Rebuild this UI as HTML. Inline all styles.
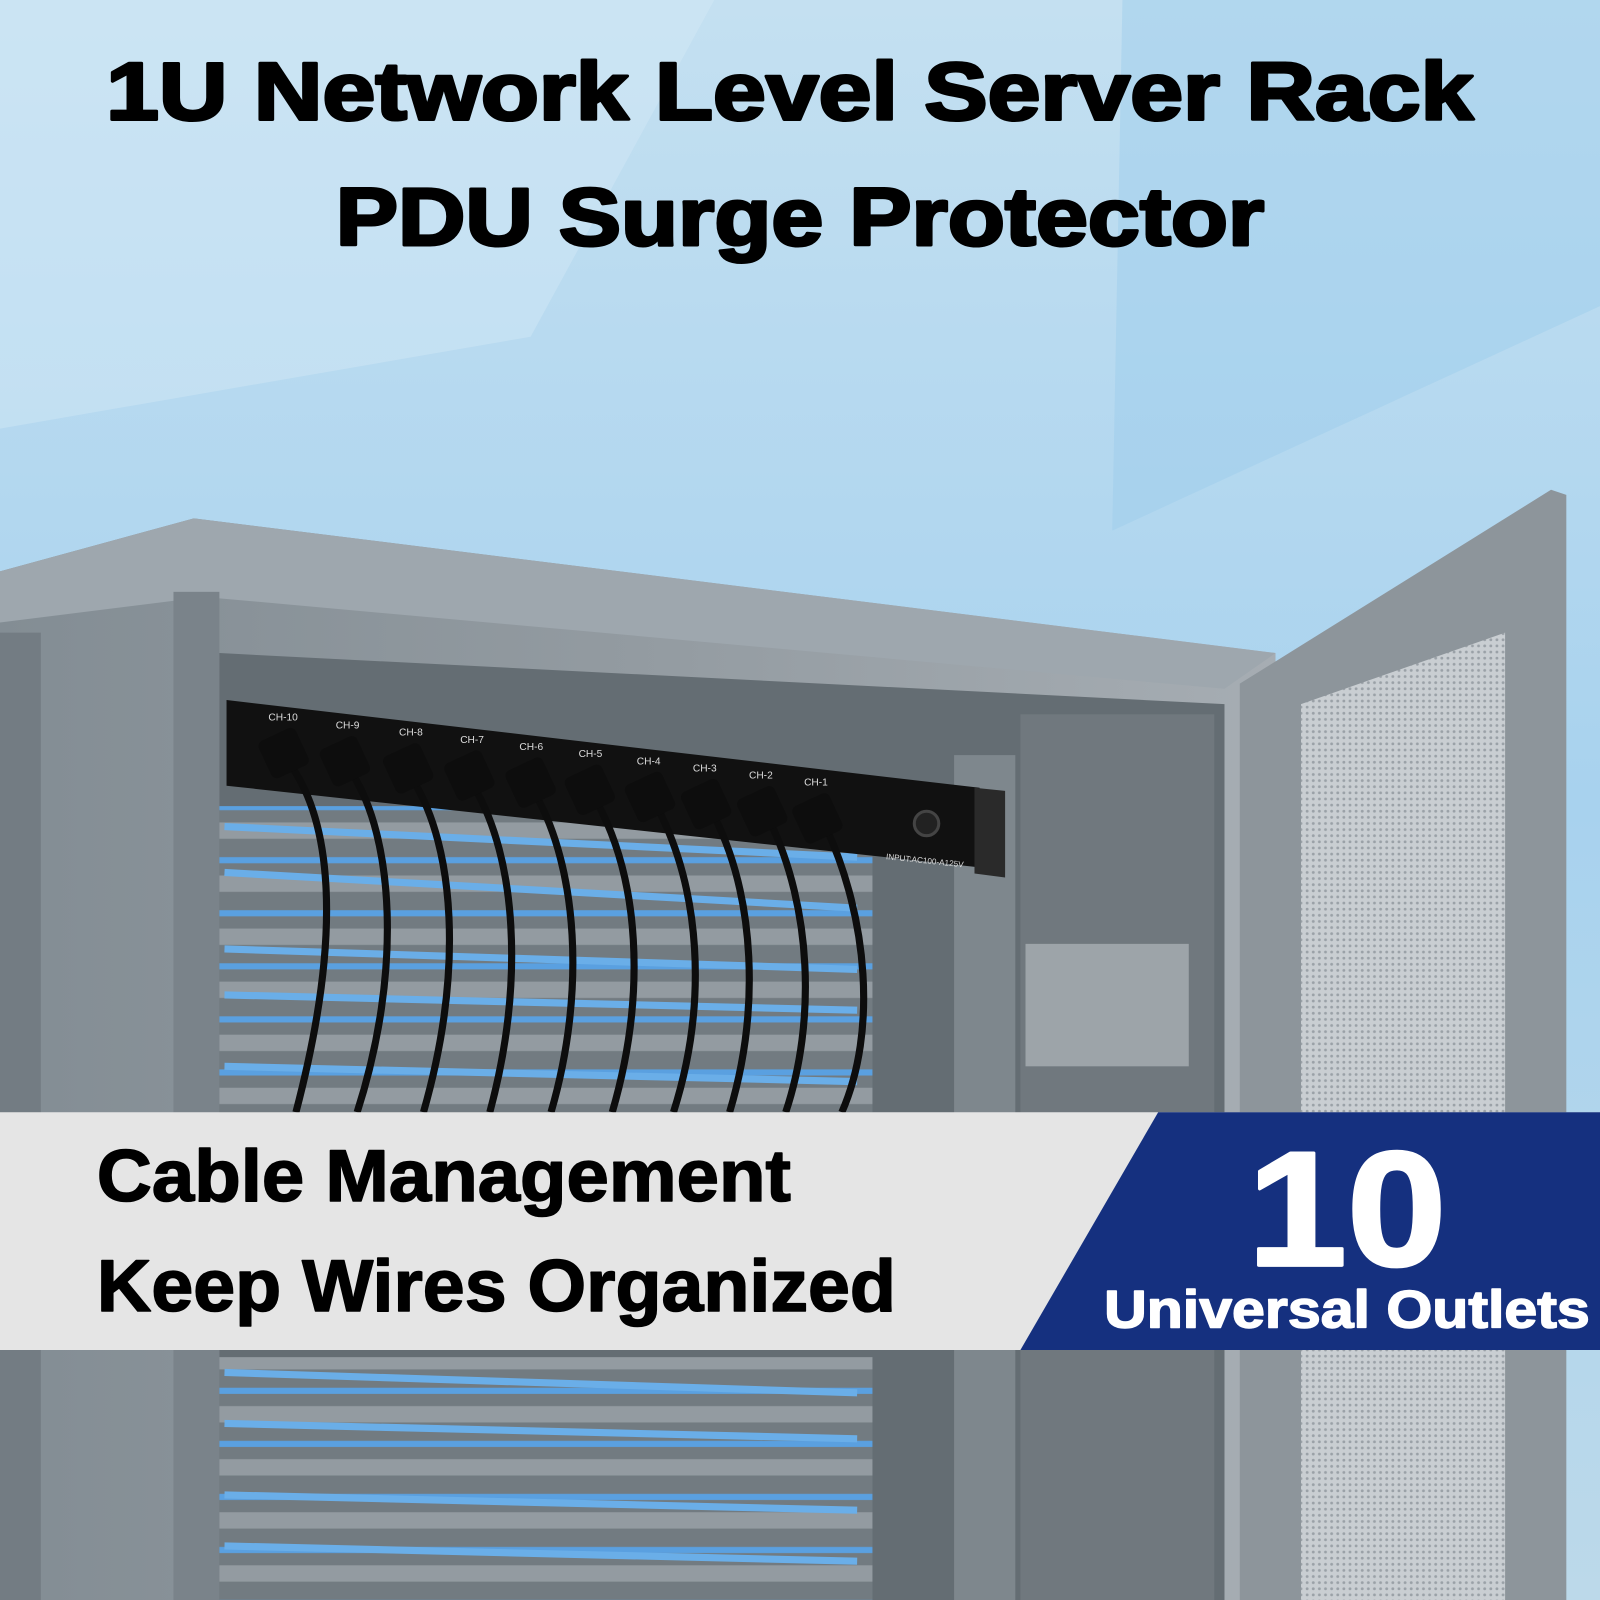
<!DOCTYPE html>
<html><head><meta charset="utf-8"><style>
html,body{margin:0;padding:0;width:1600px;height:1600px;overflow:hidden;background:#a9d2ec}
svg{display:block}
</style></head><body>
<svg width="1600" height="1600" viewBox="0 0 1568 1568" xmlns="http://www.w3.org/2000/svg">
<defs>
<linearGradient id="sky" x1="0" y1="0" x2="0" y2="1">
<stop offset="0" stop-color="#c4e0f1"/><stop offset="0.5" stop-color="#a8d2ee"/><stop offset="1" stop-color="#bcd9ea"/>
</linearGradient>
<linearGradient id="cab" x1="0" y1="0" x2="1" y2="0">
<stop offset="0" stop-color="#838d94"/><stop offset="0.5" stop-color="#939ba1"/><stop offset="1" stop-color="#a6adb3"/>
</linearGradient>
<pattern id="mesh" width="6" height="6" patternUnits="userSpaceOnUse">
<rect width="6" height="6" fill="#c9ced2"/><circle cx="3" cy="3" r="1.4" fill="#9aa1a7"/>
</pattern>
<pattern id="sw" width="1" height="52" patternUnits="userSpaceOnUse" x="0" y="0">
<rect width="1" height="52" fill="#727b81"/>
<rect y="8" width="1" height="6" fill="#5aa0e0"/>
<rect y="26" width="1" height="16" fill="#939ba1"/>
</pattern>
</defs>
<rect width="1568" height="1568" fill="url(#sky)"/>
<polygon points="0,0 700,0 520,330 0,420" fill="#d6ebf7" opacity="0.4"/>
<polygon points="1100,0 1568,0 1568,300 1090,520" fill="#9ccbeb" opacity="0.45"/>
<polygon points="0,560 190,508 1250,640 1250,1568 0,1568" fill="url(#cab)"/>
<polygon points="0,560 190,508 1250,640 1200,675 200,585 0,610" fill="#9ea7ae"/>
<rect x="170" y="580" width="45" height="988" fill="#7a838a"/>
<rect x="0" y="620" width="40" height="948" fill="#737c83"/>
<polygon points="215,640 1200,690 1200,1568 215,1568" fill="#646d73"/>
<rect x="215" y="790" width="640" height="300" fill="url(#sw)"/>
<rect x="215" y="1330" width="640" height="238" fill="url(#sw)"/>
<g stroke="#6aaee8" stroke-width="7" fill="none">
<path d="M220,810 L840,840"/><path d="M220,855 L840,890"/><path d="M220,930 L840,950"/><path d="M220,975 L840,990"/><path d="M220,1045 L840,1060"/>
<path d="M220,1345 L840,1365"/><path d="M220,1395 L840,1410"/><path d="M220,1465 L840,1480"/><path d="M220,1515 L840,1530"/>
</g>
<rect x="935" y="740" width="60" height="828" fill="#7e878d"/>
<rect x="1000" y="700" width="190" height="868" fill="#70787e"/>
<rect x="1005" y="925" width="160" height="120" fill="#9da4a9"/>
<polygon points="1215,670 1520,480 1535,485 1535,1568 1215,1568" fill="#8d959b"/>
<polygon points="1275,690 1475,620 1475,1568 1275,1568" fill="url(#mesh)"/>
<polygon points="222,686 960,772 960,850 222,770" fill="#111"/>
<polygon points="955,772 985,775 985,860 955,856" fill="#2a2a2a"/>
<g font-family="Liberation Sans, sans-serif" font-size="10" fill="#ddd">
<text x="263" y="706">CH-10</text><text x="329" y="714">CH-9</text><text x="391" y="721">CH-8</text><text x="451" y="728">CH-7</text><text x="509" y="735">CH-6</text><text x="567" y="742">CH-5</text><text x="624" y="749">CH-4</text><text x="679" y="756">CH-3</text><text x="734" y="763">CH-2</text><text x="788" y="770">CH-1</text>
<text x="868" y="842" font-size="8" transform="rotate(6 868 842)">INPUT:AC100-A125V</text>
</g>
<circle cx="908" cy="807" r="12" fill="#222" stroke="#444" stroke-width="3"/>
<g stroke="#0d0d0d" stroke-width="7" fill="none">
<path d="M285,750 C320,800 340,900 290,1090"/>
<path d="M345,758 C385,820 395,950 350,1090"/>
<path d="M405,765 C445,830 455,950 415,1090"/>
<path d="M465,772 C505,840 515,960 480,1090"/>
<path d="M525,779 C565,850 575,970 540,1090"/>
<path d="M585,786 C625,860 635,970 600,1090"/>
<path d="M645,793 C685,870 695,980 660,1090"/>
<path d="M700,800 C740,880 745,990 715,1090"/>
<path d="M755,806 C795,890 800,1000 770,1090"/>
<path d="M810,812 C850,900 860,1010 825,1090"/>
</g>
<g fill="#0d0d0d">
<rect x="258" y="718" width="40" height="40" rx="6" transform="rotate(-25 278 738)"/>
<rect x="318" y="726" width="40" height="40" rx="6" transform="rotate(-25 338 746)"/>
<rect x="380" y="733" width="40" height="40" rx="6" transform="rotate(-25 400 753)"/>
<rect x="440" y="740" width="40" height="40" rx="6" transform="rotate(-25 460 760)"/>
<rect x="500" y="747" width="40" height="40" rx="6" transform="rotate(-25 520 767)"/>
<rect x="558" y="754" width="40" height="40" rx="6" transform="rotate(-25 578 774)"/>
<rect x="617" y="761" width="40" height="40" rx="6" transform="rotate(-25 637 781)"/>
<rect x="672" y="768" width="40" height="40" rx="6" transform="rotate(-25 692 788)"/>
<rect x="727" y="775" width="40" height="40" rx="6" transform="rotate(-25 747 795)"/>
<rect x="781" y="782" width="40" height="40" rx="6" transform="rotate(-25 801 802)"/>
</g>
<rect x="0" y="1090" width="1568" height="233" fill="#e5e5e5"/>
<polygon points="1135,1090 1568,1090 1568,1323 1000,1323" fill="#15307f"/>
<g font-family="Liberation Sans, Arial, sans-serif" font-weight="bold" stroke-linejoin="round">
<text x="774" y="117" font-size="80" text-anchor="middle" fill="#000" stroke="#000" stroke-width="3" textLength="1340" lengthAdjust="spacingAndGlyphs">1U Network Level Server Rack</text>
<text x="784" y="240" font-size="80" text-anchor="middle" fill="#000" stroke="#000" stroke-width="3" textLength="910" lengthAdjust="spacingAndGlyphs">PDU Surge Protector</text>
<text x="95" y="1177" font-size="72" fill="#000" stroke="#000" stroke-width="1.5" textLength="680" lengthAdjust="spacingAndGlyphs">Cable Management</text>
<text x="95" y="1285" font-size="72" fill="#000" stroke="#000" stroke-width="1.5" textLength="783" lengthAdjust="spacingAndGlyphs">Keep Wires Organized</text>
<text x="1320" y="1240" font-size="160" text-anchor="middle" fill="#fff" stroke="#fff" stroke-width="3" textLength="195" lengthAdjust="spacingAndGlyphs">10</text>
<text x="1320" y="1301" font-size="52" text-anchor="middle" fill="#fff" stroke="#fff" stroke-width="1.5" textLength="476" lengthAdjust="spacingAndGlyphs">Universal Outlets</text>
</g>
</svg>
</body></html>
